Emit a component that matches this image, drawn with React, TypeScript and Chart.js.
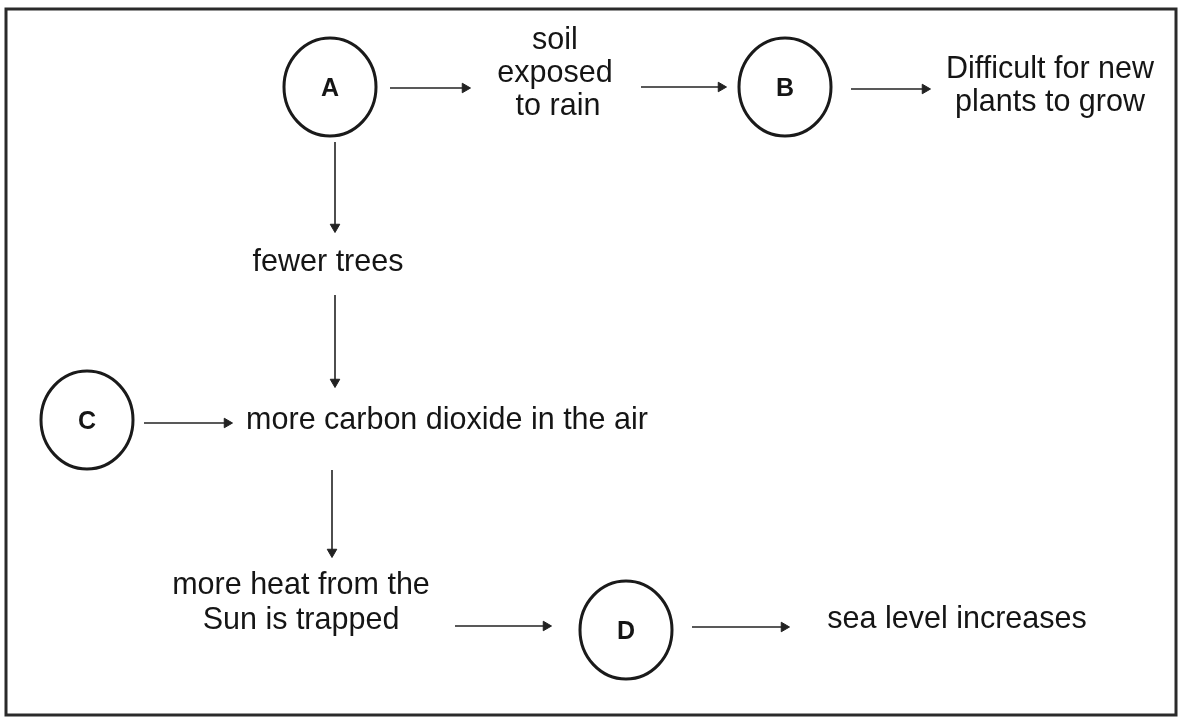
import React, { useEffect, useRef } from "react";
import { Chart, registerables } from "chart.js";
Chart.register(...registerables);

// Circled nodes
const nodeLabels = ["A", "B", "C", "D"];
const nodeX = [330, 785, 87, 626];
const nodeY = [87, 87, 420, 630];

// Arrows: start and arrow-head centre
const arrowFromX = [390, 641, 851, 335, 335, 144, 332, 455, 692];
const arrowFromY = [88, 87, 89, 142, 295, 423, 470, 626, 627];
const arrowToX = [465, 721, 925, 335, 335, 227, 332, 546, 784];
const arrowToY = [88, 87, 89, 227, 382, 423, 552, 626, 627];

// Free text
const textLines = [
  "soil",
  "exposed",
  "to rain",
  "Difficult for new",
  "plants to grow",
  "fewer trees",
  "more carbon dioxide in the air",
  "more heat from the",
  "Sun is trapped",
  "sea level increases",
];
const textX = [555, 555, 558, 1050, 1050, 328, 447, 301, 301, 957];
const textY = [41, 74, 107, 70, 103, 263, 421, 586, 621, 620];

const FONT = '"Liberation Sans", Arial, sans-serif';

function makeEllipse(rx: number, ry: number, lw: number) {
  const c = document.createElement("canvas");
  c.width = Math.ceil(2 * rx + lw * 2);
  c.height = Math.ceil(2 * ry + lw * 2);
  const g = c.getContext("2d")!;
  g.strokeStyle = "#1a1a1a";
  g.lineWidth = lw;
  g.beginPath();
  g.ellipse(c.width / 2, c.height / 2, rx, ry, 0, 0, Math.PI * 2);
  g.stroke();
  return c;
}

export default function App() {
  const ref = useRef<HTMLCanvasElement | null>(null);
  useEffect(() => {
    if (!ref.current) return;
    const ellipse = makeEllipse(46, 49, 3);

    const arrowSets = arrowFromX.map((fx, i) => {
      const tx = arrowToX[i];
      const ty = arrowToY[i];
      const fy = arrowFromY[i];
      const ang = (Math.atan2(ty - fy, tx - fx) * 180) / Math.PI + 90;
      return {
        type: "scatter" as const,
        data: [
          { x: fx, y: fy },
          { x: tx, y: ty },
        ],
        showLine: true,
        borderColor: "#222",
        borderWidth: 1.6,
        backgroundColor: "#222",
        pointBackgroundColor: "#222",
        pointBorderColor: "#222",
        pointBorderWidth: 1,
        pointStyle: "triangle",
        pointRadius: [0, 5.5],
        pointRotation: [0, ang],
      };
    });

    const framePlugin = {
      id: "frame",
      beforeDraw(chart: any) {
        const { ctx, scales } = chart;
        const x0 = scales.x.getPixelForValue(6);
        const x1 = scales.x.getPixelForValue(1176);
        const y0 = scales.y.getPixelForValue(9);
        const y1 = scales.y.getPixelForValue(715);
        ctx.save();
        ctx.fillStyle = "#ffffff";
        ctx.fillRect(0, 0, chart.width, chart.height);
        ctx.strokeStyle = "#2a2a2a";
        ctx.lineWidth = 3;
        ctx.strokeRect(x0, y0, x1 - x0, y1 - y0);
        ctx.restore();
      },
    };

    const textPlugin = {
      id: "texts",
      afterDatasetsDraw(chart: any) {
        const { ctx, scales } = chart;
        ctx.save();
        ctx.fillStyle = "#151515";
        ctx.textAlign = "center";
        ctx.textBaseline = "middle";
        const meta = chart.getDatasetMeta(0);
        ctx.font = `bold 25px ${FONT}`;
        meta.data.forEach((el: any, i: number) => {
          ctx.fillText(nodeLabels[i], el.x, el.y + 2);
        });
        ctx.font = `30.5px ${FONT}`;
        textLines.forEach((t, i) => {
          ctx.fillText(
            t,
            scales.x.getPixelForValue(textX[i]),
            scales.y.getPixelForValue(textY[i])
          );
        });
        ctx.restore();
      },
    };

    const chart = new Chart(ref.current, {
      type: "scatter",
      data: {
        datasets: [
          {
            data: nodeX.map((x, i) => ({ x, y: nodeY[i] })),
            pointStyle: ellipse as any,
            pointRadius: 50,
            showLine: false,
          } as any,
          ...(arrowSets as any[]),
        ],
      },
      options: {
        responsive: false,
        animation: false,
        events: [],
        layout: { padding: 0, autoPadding: false },
        plugins: {
          legend: { display: false },
          tooltip: { enabled: false },
          title: { display: false },
        },
        scales: {
          x: { type: "linear", min: 0, max: 1180, display: false },
          y: { type: "linear", min: 0, max: 720, reverse: true, display: false },
        },
      },
      plugins: [framePlugin, textPlugin],
    });
    return () => chart.destroy();
  }, []);

  return (
    <div style={{ position: "absolute", left: 0, top: 0, width: 1180, height: 720 }}>
      <canvas ref={ref} width={1180} height={720} style={{ display: "block" }} />
    </div>
  );
}
